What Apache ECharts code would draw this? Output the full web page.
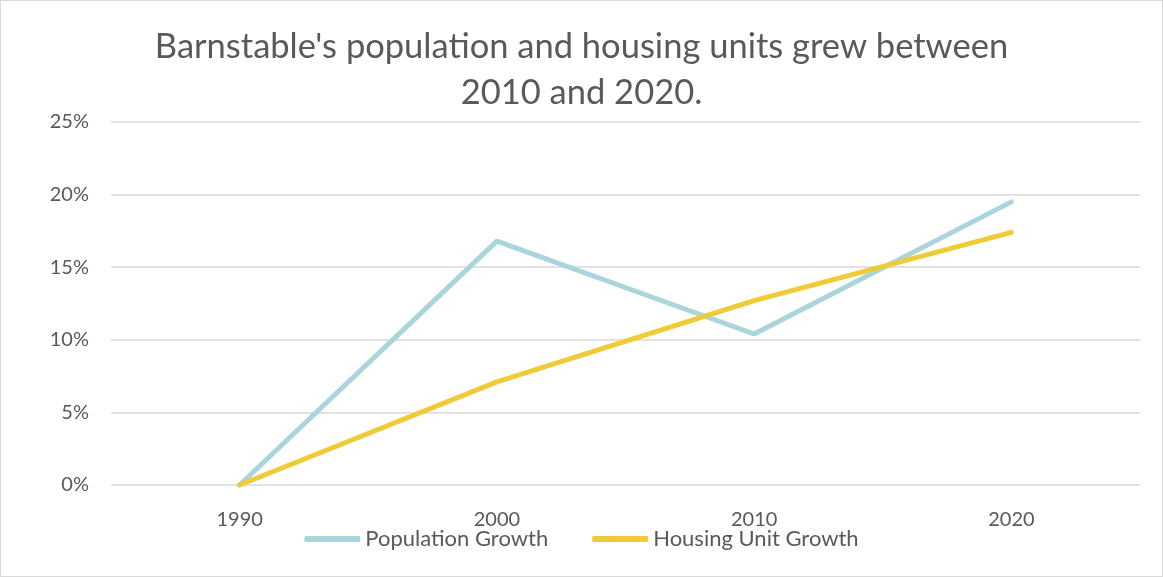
<!DOCTYPE html>
<html>
<head>
<meta charset="utf-8">
<script src="https://cdn.jsdelivr.net/npm/echarts@6/dist/echarts.min.js"></script>
<style>
  html, body { margin: 0; padding: 0; background: #fff; }
  #line { width: 1161px; height: 575px; border: 1px solid #d9d9d9; }
</style>
</head>
<body>
<div id="line"></div>
<script>
// data
var years = ['1990', '2000', '2010', '2020'];
var populationGrowth = [0, 16.8, 10.4, 19.5];
var housingGrowth = [0, 7.1, 12.7, 17.4];
var seriesNames = ['Population Growth', 'Housing Unit Growth'];

var myChart = echarts.init(document.getElementById('line'));

var option = {
    animation: false,
    color: ['#A9D5DB', '#EFCB38'],
    title: {
        text: "Barnstable's population and housing units grew between\n2010 and 2020.",
        left: 'center',
        top: 18,
        textStyle: {
            fontFamily: 'Lato',
            fontSize: 34.5,
            fontWeight: 'normal',
            color: '#595959',
            lineHeight: 46
        }
    },
    legend: {
        data: seriesNames,
        bottom: 21,
        left: 'center',
        icon: 'roundRect',
        itemWidth: 56,
        itemHeight: 6,
        itemGap: 44,
        textStyle: {
            fontFamily: 'Lato',
            fontSize: 22,
            color: '#595959'
        }
    },
    grid: {
        left: 110,
        right: 22,
        top: 121,
        bottom: 91
    },
    xAxis: {
        type: 'category',
        boundaryGap: true,
        data: years,
        axisLine: { show: false },
        axisTick: { show: false },
        axisLabel: {
            margin: 25,
            fontFamily: 'Lato',
            fontSize: 20,
            color: '#595959'
        }
    },
    yAxis: {
        type: 'value',
        min: 0,
        max: 25,
        interval: 5,
        axisLine: { show: false },
        axisTick: { show: false },
        splitLine: { lineStyle: { color: '#d9d9d9', width: 1.5 } },
        axisLabel: {
            margin: 22,
            fontFamily: 'Lato',
            fontSize: 20,
            color: '#595959',
            formatter: '{value}%'
        }
    },
    series: [{
        name: seriesNames[0],
        type: 'line',
        data: populationGrowth,
        symbol: 'none',
        lineStyle: { width: 5, cap: 'round' }
    }, {
        name: seriesNames[1],
        type: 'line',
        data: housingGrowth,
        symbol: 'none',
        lineStyle: { width: 5, cap: 'round' }
    }]
};

myChart.setOption(option);
</script>
</body>
</html>
